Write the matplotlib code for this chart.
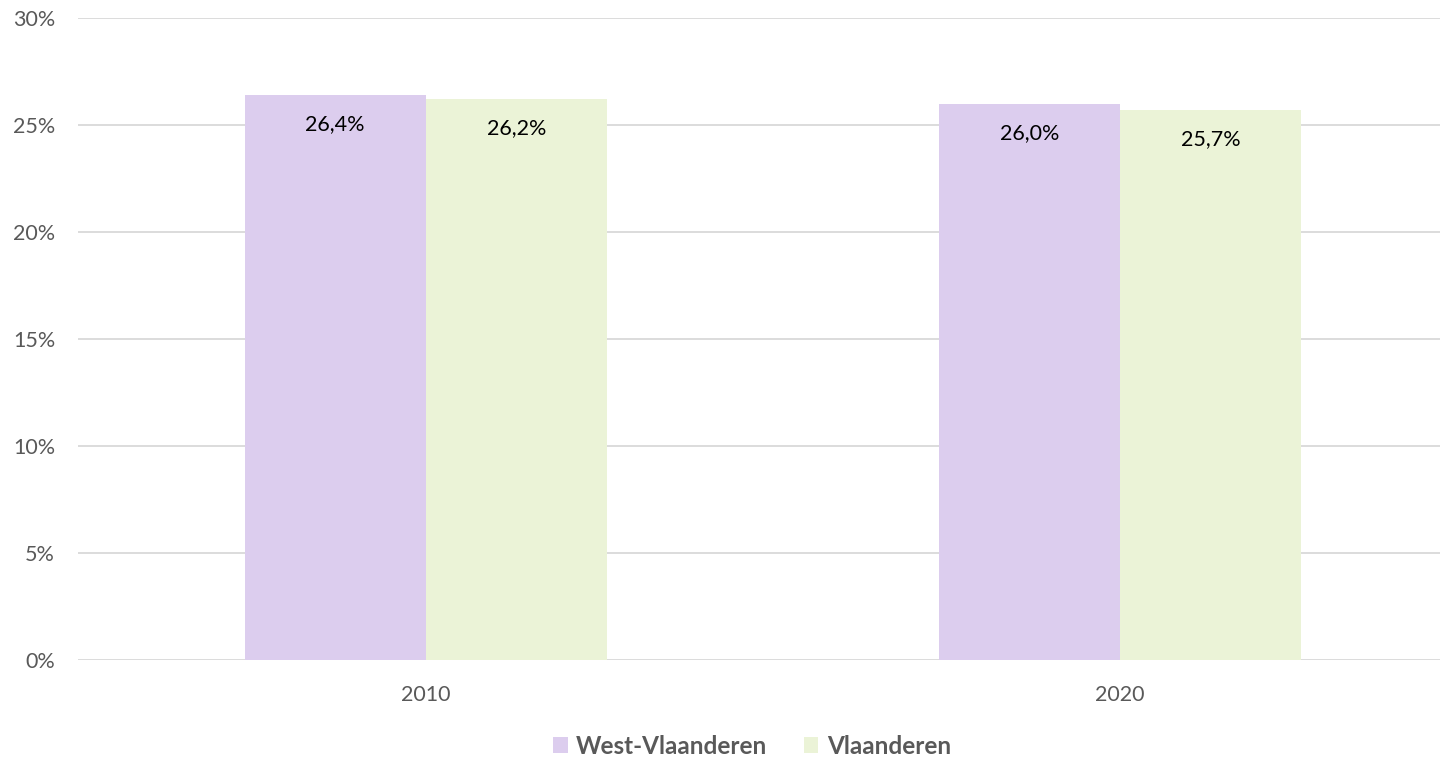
"""
Bar chart: share per year, West-Vlaanderen vs Vlaanderen
"""
import matplotlib
matplotlib.use("Agg")
import matplotlib.pyplot as plt
from matplotlib.ticker import FuncFormatter

# data
years = ["2010", "2020"]
west_vlaanderen = [26.4, 26.0]
vlaanderen = [26.2, 25.7]
series_names = ["West-Vlaanderen", "Vlaanderen"]

plt.rcParams["font.family"] = ["Lato", "DejaVu Sans"]

fig = plt.figure(figsize=(14.48, 7.57), dpi=100)
ax = fig.add_axes([78 / 1448, 1 - 660 / 757, (1440 - 78) / 1448, (660 - 18) / 757])

x = list(range(len(years)))
width = 0.261
purple = "#dccdee"
green = "#ebf3d7"
bars1 = ax.bar([i - width / 2 for i in x], west_vlaanderen, width, color=purple,
               label=series_names[0], zorder=2)
bars2 = ax.bar([i + width / 2 for i in x], vlaanderen, width, color=green,
               label=series_names[1], zorder=2)

# labels inside the bars, near the top
for bars in (bars1, bars2):
    for b in bars:
        v = b.get_height()
        ax.annotate(f"{v:.1f}%".replace(".", ","), (b.get_x() + b.get_width() / 2, v),
                    xytext=(0, -21), textcoords="offset points", ha="center", va="center",
                    fontsize=15.5, color="#000000")

ax.set_ylim(0, 30)
ax.set_yticks(range(0, 31, 5))
ax.yaxis.set_major_formatter(FuncFormatter(lambda v, p: f"{v:.0f}%"))
ax.set_xlim(-0.501, 1.461)
ax.set_xticks(x)
ax.set_xticklabels(years)

ax.grid(axis="y", color="#d9d9d9", linewidth=1.3, zorder=0)
ax.set_axisbelow(True)
for s in ax.spines.values():
    s.set_visible(False)
ax.tick_params(axis="both", length=0, labelsize=15.5, labelcolor="#595959")
ax.tick_params(axis="y", pad=16.5)
ax.tick_params(axis="x", pad=18)

leg = fig.legend(loc="center", bbox_to_anchor=(752 / 1448, 1 - 746 / 757), ncol=2, frameon=False,
                 handlelength=0.6, handleheight=0.6, handletextpad=0.35, columnspacing=1.5,
                 prop={"size": 17.5, "weight": "bold"})
for t in leg.get_texts():
    t.set_color("#595959")

fig.savefig("out.png", dpi=100)
